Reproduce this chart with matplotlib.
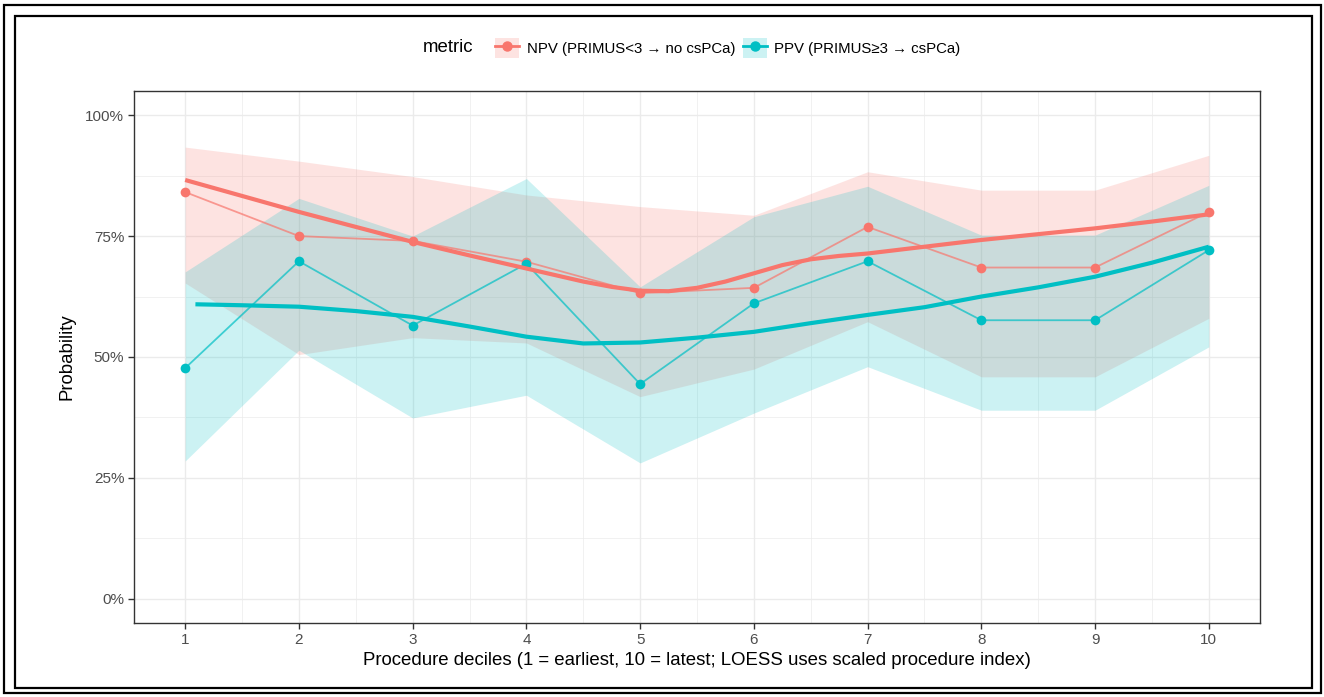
import matplotlib
matplotlib.use("Agg")
import matplotlib.pyplot as plt
from matplotlib.lines import Line2D
from matplotlib.patches import Patch, Rectangle
from matplotlib.ticker import FixedLocator, PercentFormatter

plt.rcParams["font.family"] = ["Liberation Sans", "DejaVu Sans"]

NPV_COL = "#F8766D"
PPV_COL = "#00BFC4"

deciles = [1, 2, 3, 4, 5, 6, 7, 8, 9, 10]

# observed per-decile estimates with 95% CI
npv = [0.841, 0.750, 0.740, 0.697, 0.632, 0.643, 0.769, 0.685, 0.685, 0.800]
npv_lo = [0.653, 0.505, 0.540, 0.529, 0.418, 0.475, 0.573, 0.459, 0.459, 0.580]
npv_hi = [0.934, 0.905, 0.873, 0.835, 0.811, 0.793, 0.883, 0.845, 0.845, 0.917]

ppv = [0.477, 0.698, 0.565, 0.693, 0.444, 0.611, 0.698, 0.576, 0.576, 0.721]
ppv_lo = [0.285, 0.514, 0.374, 0.421, 0.281, 0.384, 0.480, 0.390, 0.390, 0.521]
ppv_hi = [0.676, 0.828, 0.750, 0.869, 0.645, 0.790, 0.853, 0.752, 0.752, 0.855]

# LOESS fits (scaled procedure index mapped back onto decile axis)
npv_fit_x = [1.0, 1.5, 2.0, 2.5, 3.0, 3.5, 4.0, 4.5, 4.75, 5.0, 5.25, 5.5, 5.75,
             6.0, 6.25, 6.5, 6.75, 7.0, 7.5, 8.0, 8.5, 9.0, 9.5, 10.0]
npv_fit = [0.866, 0.833, 0.800, 0.769, 0.738, 0.710, 0.683, 0.656, 0.645, 0.637,
           0.636, 0.643, 0.656, 0.673, 0.690, 0.702, 0.709, 0.714, 0.728, 0.742,
           0.754, 0.766, 0.780, 0.795]

ppv_fit_x = [1.09, 1.5, 2.0, 2.5, 3.0, 3.5, 4.0, 4.5, 5.0, 5.5, 6.0, 6.5,
             7.0, 7.5, 8.0, 8.5, 9.0, 9.5, 10.0]
ppv_fit = [0.609, 0.607, 0.604, 0.595, 0.583, 0.563, 0.542, 0.528, 0.530, 0.540,
           0.552, 0.570, 0.587, 0.603, 0.625, 0.644, 0.666, 0.695, 0.728]

labels = ["NPV (PRIMUS<3 \u2192 no csPCa)", "PPV (PRIMUS\u22653 \u2192 csPCa)"]

W, H = 1324, 697
fig = plt.figure(figsize=(W / 100, H / 100), dpi=100, facecolor="white")

# double frame around the whole figure
for (x0, y0, x1, y1) in [(4, 5, 1321, 693), (15, 16, 1312, 688)]:
    fig.add_artist(Rectangle((x0 / W, 1 - y1 / H), (x1 - x0) / W, (y1 - y0) / H,
                             transform=fig.transFigure, fill=False,
                             edgecolor="black", linewidth=1.6))

ax = fig.add_axes([134 / W, 1 - 623 / H, (1260 - 134) / W, (623 - 91) / H])
ax.set_facecolor("white")

ax.fill_between(deciles, npv_lo, npv_hi, color=NPV_COL, alpha=0.2, linewidth=0)
ax.fill_between(deciles, ppv_lo, ppv_hi, color=PPV_COL, alpha=0.2, linewidth=0)

ax.plot(deciles, npv, color=NPV_COL, lw=1.3, alpha=0.7, zorder=3)
ax.plot(deciles, ppv, color=PPV_COL, lw=1.3, alpha=0.7, zorder=3)
ax.plot(deciles, npv, "o", color=NPV_COL, ms=7, mec="none", zorder=4)
ax.plot(deciles, ppv, "o", color=PPV_COL, ms=7, mec="none", zorder=4)

ax.plot(npv_fit_x, npv_fit, color=NPV_COL, lw=3.0, zorder=5, solid_capstyle="butt")
ax.plot(ppv_fit_x, ppv_fit, color=PPV_COL, lw=3.0, zorder=5, solid_capstyle="butt")

ax.set_xlim(0.55, 10.45)
ax.set_ylim(-0.05, 1.05)
ax.set_xticks(deciles)
ax.set_yticks([0, 0.25, 0.5, 0.75, 1.0])
ax.xaxis.set_minor_locator(FixedLocator([d + 0.5 for d in deciles[:-1]]))
ax.yaxis.set_minor_locator(FixedLocator([0.125, 0.375, 0.625, 0.875]))
ax.yaxis.set_major_formatter(PercentFormatter(1.0, decimals=0))

ax.grid(which="major", color="#EBEBEB", lw=1.0, zorder=0)
ax.grid(which="minor", color="#EBEBEB", lw=0.5, zorder=0)
ax.set_axisbelow(True)
for s in ax.spines.values():
    s.set_color("#333333")
    s.set_linewidth(1.0)
ax.tick_params(which="major", length=4, width=1, color="#333333",
               labelcolor="#4D4D4D", labelsize=11, pad=3)
ax.tick_params(which="minor", length=0)

ax.set_xlabel("Procedure deciles (1 = earliest, 10 = latest; LOESS uses scaled procedure index)",
              fontsize=13.4, labelpad=4)
ax.set_ylabel("Probability", fontsize=13.4, labelpad=7)

# legend across the top
handles = [
    (Patch(facecolor=NPV_COL, alpha=0.2, edgecolor="none"),
     Line2D([], [], color=NPV_COL, lw=2, marker="o", ms=6.5)),
    (Patch(facecolor=PPV_COL, alpha=0.2, edgecolor="none"),
     Line2D([], [], color=PPV_COL, lw=2, marker="o", ms=6.5)),
]
fig.text(448 / W, 1 - 48 / H, "metric", fontsize=13.4, ha="center", va="center")
fig.legend(handles, labels, loc="center", bbox_to_anchor=(728 / W, 1 - 48 / H),
           ncol=2, frameon=False, fontsize=10.8, handlelength=1.6, handleheight=1.6,
           handletextpad=0.5, columnspacing=0.5, borderpad=0)

fig.savefig("out.png", dpi=100, facecolor="white")
